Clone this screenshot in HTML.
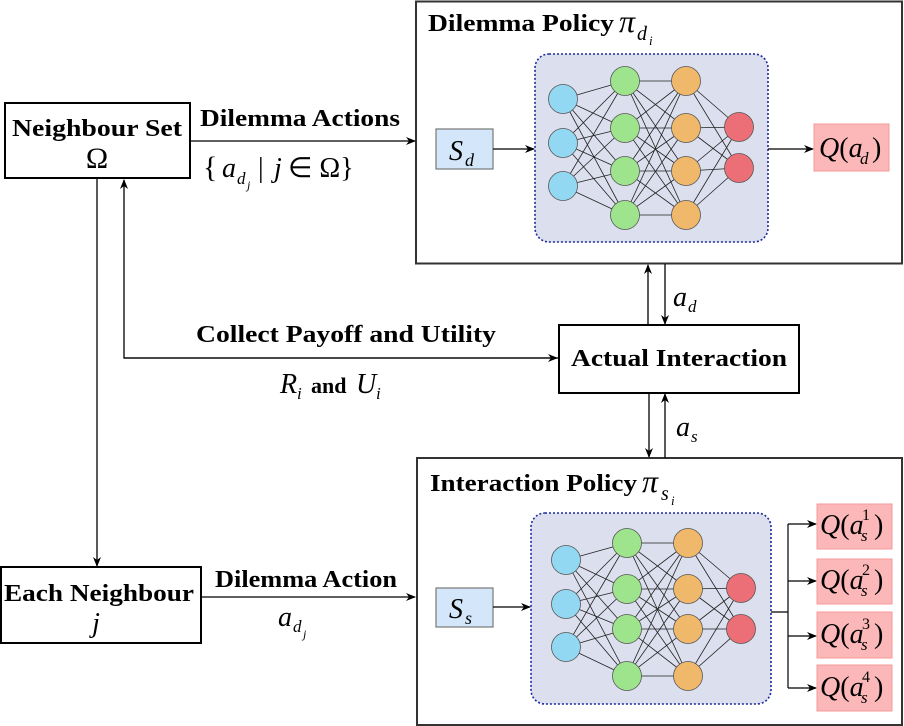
<!DOCTYPE html>
<html><head><meta charset="utf-8"><style>
html,body{margin:0;padding:0;background:#fff;}
svg{display:block;}
text{font-family:"Liberation Serif",serif;fill:#000;}
.b{font-weight:bold;font-size:24px;}
.nl{stroke:#222;stroke-width:0.8;}
</style></head><body>
<svg width="904" height="726" viewBox="0 0 904 726" xmlns="http://www.w3.org/2000/svg">
<defs>
<marker id="a" markerWidth="10" markerHeight="8" refX="9" refY="4" orient="auto" markerUnits="userSpaceOnUse">
<path d="M0,0 L10,4 L0,8 L3,4 z" fill="#000"/></marker>
</defs>
<rect x="416" y="1.5" width="486" height="262" fill="#fff" stroke="#333" stroke-width="2"/>
<rect x="417" y="458" width="485" height="267" fill="#fff" stroke="#333" stroke-width="2"/>
<rect x="5" y="103" width="185" height="75" fill="#fff" stroke="#000" stroke-width="2"/>
<rect x="1" y="567" width="200" height="76" fill="#fff" stroke="#000" stroke-width="2"/>
<rect x="559" y="325" width="240" height="68" fill="#fff" stroke="#000" stroke-width="2"/>

<text class="b" x="97" y="136" text-anchor="middle" textLength="170" lengthAdjust="spacingAndGlyphs">Neighbour Set</text>
<text x="97" y="168" text-anchor="middle" style="font-size:30px">Ω</text>
<text class="b" x="99" y="601" text-anchor="middle" textLength="190" lengthAdjust="spacingAndGlyphs">Each Neighbour</text>
<text x="96" y="632" text-anchor="middle" style="font-size:28px;font-style:italic">j</text>
<text class="b" x="679" y="366" text-anchor="middle" textLength="216" lengthAdjust="spacingAndGlyphs">Actual Interaction</text>

<line x1="190" y1="141" x2="415" y2="141" stroke="#000" stroke-width="1.3" marker-end="url(#a)"/>
<text class="b" x="200" y="126" textLength="200" lengthAdjust="spacingAndGlyphs">Dilemma Actions</text>
<text x="203" y="177" style="font-size:30px">{</text>
<text x="222" y="177" style="font-size:28px;font-style:italic">a</text>
<text x="237" y="184" style="font-size:17px;font-style:italic">d</text>
<text x="247" y="189" style="font-size:12px;font-style:italic">j</text>
<text x="258" y="177" style="font-size:28px">|</text>
<text x="274" y="177" style="font-size:28px;font-style:italic">j</text>
<text x="288" y="177" style="font-size:28px">∈ Ω}</text>

<line x1="97" y1="178" x2="97" y2="566" stroke="#000" stroke-width="1.3" marker-end="url(#a)"/>
<polyline points="558,358 124,358 124,180" fill="none" stroke="#000" stroke-width="1.3" marker-end="url(#a)"/>
<line x1="124" y1="358" x2="557" y2="358" stroke="#000" stroke-width="1.3" marker-end="url(#a)"/>
<text class="b" x="196" y="342" textLength="300" lengthAdjust="spacingAndGlyphs">Collect Payoff and Utility</text>
<text x="280" y="393" style="font-size:28px;font-style:italic">R</text>
<text x="297" y="399" style="font-size:17px;font-style:italic">i</text>
<text x="311" y="393" class="b" style="font-size:22px">and</text>
<text x="356" y="393" style="font-size:28px;font-style:italic">U</text>
<text x="376" y="399" style="font-size:17px;font-style:italic">i</text>

<line x1="201" y1="597" x2="415" y2="597" stroke="#000" stroke-width="1.3" marker-end="url(#a)"/>
<text class="b" x="215" y="587" textLength="182" lengthAdjust="spacingAndGlyphs">Dilemma Action</text>
<text x="278" y="626" style="font-size:28px;font-style:italic">a</text>
<text x="293" y="632" style="font-size:17px;font-style:italic">d</text>
<text x="303" y="638" style="font-size:12px;font-style:italic">j</text>

<line x1="648" y1="325" x2="648" y2="265" stroke="#000" stroke-width="1.3" marker-end="url(#a)"/>
<line x1="665" y1="264" x2="665" y2="324" stroke="#000" stroke-width="1.3" marker-end="url(#a)"/>
<text x="673" y="306" style="font-size:28px;font-style:italic">a</text>
<text x="688" y="312" style="font-size:17px;font-style:italic">d</text>
<line x1="649" y1="393" x2="649" y2="457" stroke="#000" stroke-width="1.3" marker-end="url(#a)"/>
<line x1="665" y1="458" x2="665" y2="394" stroke="#000" stroke-width="1.3" marker-end="url(#a)"/>
<text x="676" y="436" style="font-size:28px;font-style:italic">a</text>
<text x="691" y="442" style="font-size:17px;font-style:italic">s</text>

<!-- top policy -->
<text class="b" x="428" y="31" textLength="186" lengthAdjust="spacingAndGlyphs">Dilemma Policy</text>
<text x="619" y="32" style="font-size:32px;font-style:italic">π</text>
<text x="637" y="40" style="font-size:20px;font-style:italic">d</text>
<text x="649" y="45" style="font-size:13px;font-style:italic">i</text>
<rect x="535" y="54" width="233" height="188" rx="14" fill="#dcdfee" stroke="#1a2a9a" stroke-width="1.6" stroke-dasharray="2,2"/>
<rect x="436" y="129" width="57" height="40" fill="#d4e6fa" stroke="#777" stroke-width="1.2"/>
<text x="449" y="160" style="font-size:28px;font-style:italic">S</text>
<text x="465" y="166" style="font-size:18px;font-style:italic">d</text>
<line x1="493" y1="149" x2="534" y2="149" stroke="#000" stroke-width="1.2" marker-end="url(#a)"/>
<line x1="768" y1="149" x2="813" y2="149" stroke="#000" stroke-width="1.2" marker-end="url(#a)"/>
<rect x="814" y="124" width="75" height="47" fill="#fcb8b8" stroke="#f59a9a" stroke-width="1"/>
<text x="819" y="157" style="font-size:28px"><tspan font-style="italic">Q</tspan>(<tspan font-style="italic">a</tspan></text>
<text x="860" y="164" style="font-size:17px;font-style:italic">d</text>
<text x="872" y="157" style="font-size:28px">)</text>

<!-- bottom policy -->
<text class="b" x="430" y="491" textLength="207" lengthAdjust="spacingAndGlyphs">Interaction Policy</text>
<text x="642" y="492" style="font-size:32px;font-style:italic">π</text>
<text x="661" y="500" style="font-size:20px;font-style:italic">s</text>
<text x="671" y="505" style="font-size:13px;font-style:italic">i</text>
<rect x="531" y="513" width="240" height="191" rx="14" fill="#dcdfee" stroke="#1a2a9a" stroke-width="1.6" stroke-dasharray="2,2"/>
<rect x="436" y="588" width="57" height="39" fill="#d4e6fa" stroke="#777" stroke-width="1.2"/>
<text x="449" y="618" style="font-size:28px;font-style:italic">S</text>
<text x="465" y="624" style="font-size:18px;font-style:italic">s</text>
<line x1="493" y1="607" x2="530" y2="607" stroke="#000" stroke-width="1.2" marker-end="url(#a)"/>
<line x1="771" y1="612" x2="788" y2="612" stroke="#000" stroke-width="1.2"/>
<line x1="788" y1="524" x2="788" y2="688" stroke="#000" stroke-width="1.2"/>
<line x1="788" y1="524" x2="816" y2="524" stroke="#000" stroke-width="1.2" marker-end="url(#a)"/>
<line x1="788" y1="581" x2="816" y2="581" stroke="#000" stroke-width="1.2" marker-end="url(#a)"/>
<line x1="788" y1="636" x2="816" y2="636" stroke="#000" stroke-width="1.2" marker-end="url(#a)"/>
<line x1="788" y1="688" x2="816" y2="688" stroke="#000" stroke-width="1.2" marker-end="url(#a)"/>
<rect x="817" y="504" width="75" height="45" fill="#fcb8b8" stroke="#f59a9a"/>
<rect x="817" y="559" width="75" height="45" fill="#fcb8b8" stroke="#f59a9a"/>
<rect x="817" y="612" width="75" height="46" fill="#fcb8b8" stroke="#f59a9a"/>
<rect x="817" y="665" width="75" height="46" fill="#fcb8b8" stroke="#f59a9a"/>
<g style="font-size:28px">
<text x="820" y="534"><tspan font-style="italic">Q</tspan>(<tspan font-style="italic">a</tspan></text>
<text x="820" y="589"><tspan font-style="italic">Q</tspan>(<tspan font-style="italic">a</tspan></text>
<text x="820" y="643"><tspan font-style="italic">Q</tspan>(<tspan font-style="italic">a</tspan></text>
<text x="820" y="696"><tspan font-style="italic">Q</tspan>(<tspan font-style="italic">a</tspan></text>
<text x="874" y="534">)</text><text x="874" y="589">)</text><text x="874" y="643">)</text><text x="874" y="696">)</text>
</g>
<g style="font-size:17px;font-style:italic">
<text x="861" y="541">s</text><text x="861" y="596">s</text><text x="861" y="650">s</text><text x="861" y="703">s</text>
</g>
<g style="font-size:16px">
<text x="862" y="520">1</text><text x="862" y="575">2</text><text x="862" y="629">3</text><text x="862" y="682">4</text>
</g>

<!-- NN 1 -->
<g class="nl">
<path d="M563,99L625,81M563,99L625,128M563,99L625,171M563,99L625,215M563,143L625,81M563,143L625,128M563,143L625,171M563,143L625,215M563,186L625,81M563,186L625,128M563,186L625,171M563,186L625,215"/>
<path d="M625,81L686,81M625,81L686,128M625,81L686,171M625,81L686,215M625,128L686,81M625,128L686,128M625,128L686,171M625,128L686,215M625,171L686,81M625,171L686,128M625,171L686,171M625,171L686,215M625,215L686,81M625,215L686,128M625,215L686,171M625,215L686,215"/>
<path d="M686,81L739,127M686,81L739,168M686,128L739,127M686,128L739,168M686,171L739,127M686,171L739,168M686,215L739,127M686,215L739,168"/>
</g>
<g stroke="#555" stroke-width="0.8">
<circle cx="563" cy="99" r="14.5" fill="#93d8f3"/><circle cx="563" cy="143" r="14.5" fill="#93d8f3"/><circle cx="563" cy="186" r="14.5" fill="#93d8f3"/>
<circle cx="625" cy="81" r="14.5" fill="#9de48c"/><circle cx="625" cy="128" r="14.5" fill="#9de48c"/><circle cx="625" cy="171" r="14.5" fill="#9de48c"/><circle cx="625" cy="215" r="14.5" fill="#9de48c"/>
<circle cx="686" cy="81" r="14.5" fill="#f0b86a"/><circle cx="686" cy="128" r="14.5" fill="#f0b86a"/><circle cx="686" cy="171" r="14.5" fill="#f0b86a"/><circle cx="686" cy="215" r="14.5" fill="#f0b86a"/>
<circle cx="739" cy="127" r="14.5" fill="#ec6f78"/><circle cx="739" cy="168" r="14.5" fill="#ec6f78"/>
</g>

<!-- NN 2 -->
<g class="nl">
<path d="M566,560L627,543M566,560L627,589M566,560L627,629M566,560L627,676M566,604L627,543M566,604L627,589M566,604L627,629M566,604L627,676M566,647L627,543M566,647L627,589M566,647L627,629M566,647L627,676"/>
<path d="M627,543L688,543M627,543L688,589M627,543L688,629M627,543L688,676M627,589L688,543M627,589L688,589M627,589L688,629M627,589L688,676M627,629L688,543M627,629L688,589M627,629L688,629M627,629L688,676M627,676L688,543M627,676L688,589M627,676L688,629M627,676L688,676"/>
<path d="M688,543L741,588M688,543L741,629M688,589L741,588M688,589L741,629M688,629L741,588M688,629L741,629M688,676L741,588M688,676L741,629"/>
</g>
<g stroke="#555" stroke-width="0.8">
<circle cx="566" cy="560" r="14.5" fill="#93d8f3"/><circle cx="566" cy="604" r="14.5" fill="#93d8f3"/><circle cx="566" cy="647" r="14.5" fill="#93d8f3"/>
<circle cx="627" cy="543" r="14.5" fill="#9de48c"/><circle cx="627" cy="589" r="14.5" fill="#9de48c"/><circle cx="627" cy="629" r="14.5" fill="#9de48c"/><circle cx="627" cy="676" r="14.5" fill="#9de48c"/>
<circle cx="688" cy="543" r="14.5" fill="#f0b86a"/><circle cx="688" cy="589" r="14.5" fill="#f0b86a"/><circle cx="688" cy="629" r="14.5" fill="#f0b86a"/><circle cx="688" cy="676" r="14.5" fill="#f0b86a"/>
<circle cx="741" cy="588" r="14.5" fill="#ec6f78"/><circle cx="741" cy="629" r="14.5" fill="#ec6f78"/>
</g>
</svg>
</body></html>
